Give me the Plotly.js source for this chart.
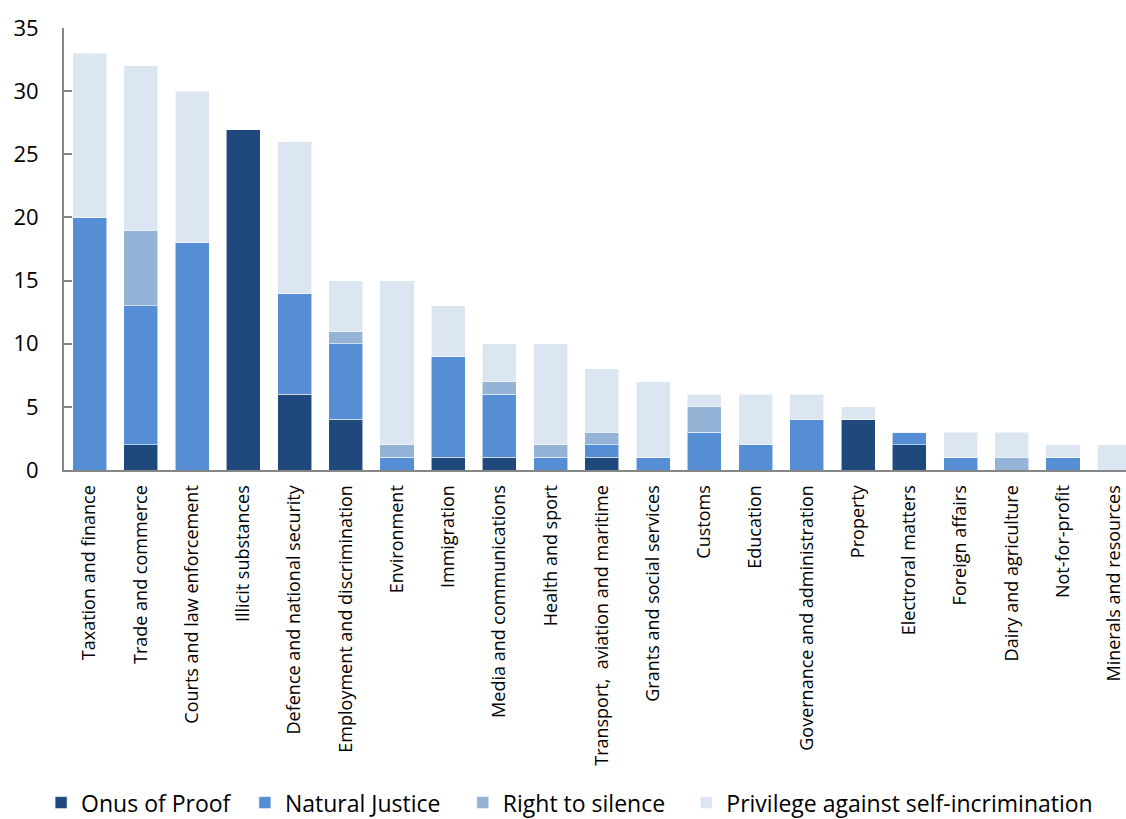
<!DOCTYPE html>
<html>
<head>
<meta charset="utf-8">
<script src="https://cdn.plot.ly/plotly-3.0.1.min.js"></script>
<style>
  html, body { margin: 0; padding: 0; background: #ffffff; }
  #chart { width: 1126px; height: 819px; }
</style>
</head>
<body>
<div id="chart"></div>
<script>
// Portfolio areas, in display order
const categories = [
  "Taxation and finance",
  "Trade and commerce",
  "Courts and law enforcement",
  "Illicit substances",
  "Defence and national security",
  "Employment and discrimination",
  "Environment",
  "Immigration",
  "Media and communications",
  "Health and sport",
  "Transport,  aviation and maritime",
  "Grants and social services",
  "Customs",
  "Education",
  "Governance and administration",
  "Property",
  "Electroral matters",
  "Foreign affairs",
  "Dairy and agriculture",
  "Not-for-profit",
  "Minerals and resources"
];

// Counts per right or privilege
const onusOfProof      = [0, 2, 0, 27, 6, 4, 0, 1, 1, 0, 1, 0, 0, 0, 0, 4, 2, 0, 0, 0, 0];
const naturalJustice   = [20, 11, 18, 0, 8, 6, 1, 8, 5, 1, 1, 1, 3, 2, 4, 0, 1, 1, 0, 1, 0];
const rightToSilence   = [0, 6, 0, 0, 0, 1, 1, 0, 1, 1, 1, 0, 2, 0, 0, 0, 0, 0, 1, 0, 0];
const privilegeAgainst = [13, 13, 12, 0, 12, 4, 13, 4, 3, 8, 5, 6, 1, 4, 2, 1, 0, 2, 2, 1, 2];

const seriesNames  = ["Onus of Proof", "Natural Justice", "Right to silence", "Privilege against self-incrimination"];
const seriesValues = [onusOfProof, naturalJustice, rightToSilence, privilegeAgainst];
const seriesColors = ["#1F497D", "#558ED5", "#95B3D7", "#DCE6F2"];

// Each series has its own legend box so the four keys can be spaced freely
const legendIds   = ["legend", "legend2", "legend3", "legend4"];
const legendLeftX = [0.0365, 0.2175, 0.411, 0.6095];

const traces = seriesNames.map((name, i) => ({
  type: "bar",
  name: name,
  x: categories,
  y: seriesValues[i],
  legend: legendIds[i],
  marker: {
    color: seriesColors[i],
    line: { color: "rgba(255,255,255,0.55)", width: 1 }
  },
  hoverinfo: "x+y+name"
}));

const axisGrey = "#868686";
const textColor = "#000000";

const layout = {
  width: 1126,
  height: 819,
  paper_bgcolor: "#ffffff",
  plot_bgcolor: "#ffffff",
  barmode: "stack",
  bargap: 0.336,
  margin: { l: 64, r: 0, t: 28, b: 349, pad: 0 },
  font: { family: "Open Sans, sans-serif", color: textColor },
  showlegend: true,
  xaxis: {
    type: "category",
    range: [-0.5, 20.23],
    showline: true,
    linecolor: axisGrey,
    linewidth: 2,
    ticks: "",
    showgrid: false,
    zeroline: false,
    tickangle: -90,
    ticklabelstandoff: 6,
    tickfont: { family: "Open Sans, sans-serif", size: 18, color: textColor },
    fixedrange: true
  },
  yaxis: {
    range: [0, 35],
    dtick: 5,
    tick0: 0,
    showline: true,
    linecolor: axisGrey,
    linewidth: 2,
    ticks: "inside",
    ticklen: 8,
    tickwidth: 2,
    tickcolor: axisGrey,
    showgrid: false,
    zeroline: false,
    ticklabelstandoff: 19,
    tickfont: { family: "Open Sans, sans-serif", size: 22, color: textColor },
    fixedrange: true
  }
};

legendIds.forEach((id, i) => {
  layout[id] = {
    orientation: "h",
    xref: "container",
    yref: "container",
    x: legendLeftX[i],
    xanchor: "left",
    y: 0.02,
    yanchor: "middle",
    font: { family: "Open Sans, sans-serif", size: 23, color: textColor },
    itemwidth: 30,
    bgcolor: "rgba(0,0,0,0)"
  };
});

Plotly.newPlot("chart", traces, layout, { displayModeBar: false, staticPlot: true });
</script>
</body>
</html>
